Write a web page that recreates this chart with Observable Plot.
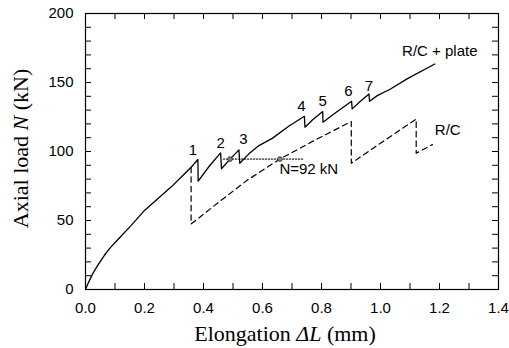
<!DOCTYPE html>
<html><head><meta charset="utf-8">
<script src="https://cdn.jsdelivr.net/npm/d3@7"></script>
<script src="https://cdn.jsdelivr.net/npm/@observablehq/plot@0.6"></script>
<style>body{margin:0;background:#fff}</style>
</head><body><div id="chart"></div>
<script>
// R/C + plate (solid)
const plateX = [0, 0.01, 0.02, 0.03, 0.042, 0.064, 0.085, 0.11, 0.155, 0.2, 0.245, 0.29, 0.336, 0.358, 0.381, 0.382, 0.42, 0.458, 0.461, 0.49, 0.52, 0.523, 0.554, 0.588, 0.633, 0.69, 0.742, 0.744, 0.77, 0.804, 0.805, 0.85, 0.902, 0.904, 0.93, 0.961, 0.963, 0.989, 1.034, 1.09, 1.184];
const plateY = [0, 5, 9.5, 13.5, 17.6, 24.8, 30.5, 36.2, 46.5, 57.3, 65.8, 74.2, 83.9, 88.6, 94.2, 78.5, 89.5, 99, 87.5, 94.5, 101.2, 91.5, 98.3, 104.3, 109.5, 118.5, 125.5, 117.6, 123, 128.9, 121.2, 128.5, 136.4, 130.9, 136, 141.7, 136.4, 140.5, 145.3, 152.6, 163.4];
// R/C (dashed)
const rcX = [0.358, 0.358, 0.381, 0.45, 0.55, 0.659, 0.78, 0.901, 0.901, 1.0, 1.121, 1.121, 1.176];
const rcY = [88.6, 47.5, 51.3, 63, 79.5, 94.5, 108.5, 121.7, 91.5, 106, 123.5, 98.8, 105];
// N = 92 kN reference
const refX = [0.467, 0.738];
const refY = [94.5, 94.5];
const dotX = [0.49, 0.659];
const dotY = [94.5, 94.5];
const noteText = ["N=92 kN"];
const noteX = [0.757];
const noteY = [87];
// crack numbers
const crackLabels = ["1", "2", "3", "4", "5", "6", "7"];
const crackX = [0.364, 0.458, 0.535, 0.732, 0.804, 0.891, 0.961];
const crackY = [100.7, 106, 109, 132.5, 136.6, 143.6, 147];
// series labels
const seriesNames = ["R/C + plate", "R/C"];
const seriesLabelX = [1.201, 1.228];
const seriesLabelY = [172.5, 115.2];
// ticks
const xTickMinor = [0, 0.1, 0.2, 0.3, 0.4, 0.5, 0.6, 0.7, 0.8, 0.9, 1.0, 1.1, 1.2, 1.3, 1.4];
const xTickLabels = [0, 0.2, 0.4, 0.6, 0.8, 1.0, 1.2, 1.4];
const yTickMinor = [0,10,20,30,40,50,60,70,80,90,100,110,120,130,140,150,160,170,180,190,200];
const yTickLabels = [0, 50, 100, 150, 200];

const plate = plateX.map((x, i) => ({x, y: plateY[i]}));
const rc = rcX.map((x, i) => ({x, y: rcY[i]}));
const ref = refX.map((x, i) => ({x, y: refY[i]}));
const dots = dotX.map((x, i) => ({x, y: dotY[i]}));
const cracks = crackLabels.map((t, i) => ({t, x: crackX[i], y: crackY[i]}));
const series = seriesNames.map((t, i) => ({t, x: seriesLabelX[i], y: seriesLabelY[i]}));
const notes = noteText.map((t, i) => ({t, x: noteX[i], y: noteY[i]}));

const W = 509, H = 348, mL = 85, mR = 11, mT = 13, mB = 59;
const innerH = H - mT - mB, innerW = W - mL - mR, tk = 6;

const svg = Plot.plot({
  width: W, height: H,
  marginLeft: mL, marginRight: mR, marginTop: mT, marginBottom: mB,
  style: {fontFamily: "'Liberation Sans', Arial, sans-serif", fontSize: "15px", color: "#000", background: "#fff"},
  x: {domain: [0, 1.4]},
  y: {domain: [0, 200]},
  marks: [
    Plot.ruleX(xTickMinor, {x: d => d, insetTop: innerH - tk, stroke: "#000"}),
    Plot.ruleX(xTickMinor, {x: d => d, insetBottom: innerH - tk, stroke: "#000"}),
    Plot.ruleY(yTickMinor, {y: d => d, insetRight: innerW - tk, stroke: "#000"}),
    Plot.ruleY(yTickMinor, {y: d => d, insetLeft: innerW - tk, stroke: "#000"}),
    Plot.axisX({ticks: xTickLabels, tickSize: 0, tickPadding: 13, tickFormat: d => d.toFixed(1), label: null, fontSize: 15}),
    Plot.axisY({ticks: yTickLabels, tickSize: 0, tickPadding: 12, label: null, fontSize: 15}),
    Plot.frame({stroke: "#000", strokeWidth: 1.2}),
    Plot.line(plate, {x: "x", y: "y", stroke: "#000", strokeWidth: 1.3}),
    Plot.line(rc, {x: "x", y: "y", stroke: "#000", strokeWidth: 1.2, strokeDasharray: "5.5,4"}),
    Plot.line(ref, {x: "x", y: "y", stroke: "#000", strokeWidth: 1, strokeDasharray: "1.5,1.5"}),
    Plot.dot(dots, {x: "x", y: "y", r: 2.3, fill: "#888", stroke: "#333", strokeWidth: 1}),
    Plot.text(cracks, {x: "x", y: "y", text: "t", fontSize: 15, fill: "#000"}),
    Plot.text(series, {x: "x", y: "y", text: "t", fontSize: 15, fill: "#000"}),
    Plot.text(notes, {x: "x", y: "y", text: "t", fontSize: 15, fill: "#000"})
  ]
});

const s = d3.select(svg);
const serif = "'Liberation Serif', 'Times New Roman', serif";
const xt = s.append("text").attr("x", 285).attr("y", 341).attr("text-anchor", "middle")
  .attr("font-family", serif).attr("font-size", 22).attr("fill", "#000");
xt.append("tspan").text("Elongation ");
xt.append("tspan").attr("font-style", "italic").text("\u0394L");
xt.append("tspan").text(" (mm)");
const yt = s.append("text").attr("transform", "translate(28,148.5) rotate(-90)").attr("text-anchor", "middle")
  .attr("font-family", serif).attr("font-size", 22).attr("fill", "#000");
yt.append("tspan").text("Axial load ");
yt.append("tspan").attr("font-style", "italic").text("N");
yt.append("tspan").text(" (kN)");

document.getElementById("chart").appendChild(svg);
</script>
</body></html>
